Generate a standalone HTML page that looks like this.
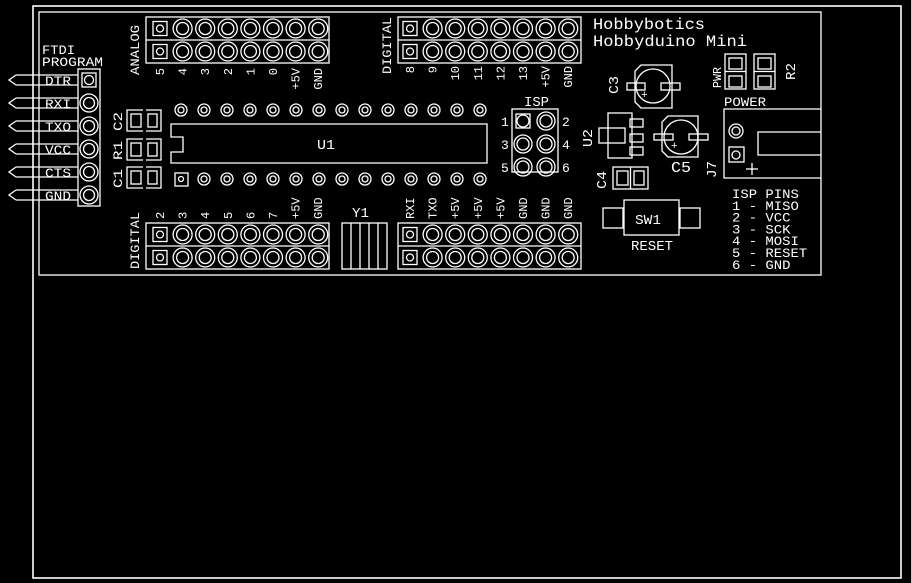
<!DOCTYPE html>
<html><head><meta charset="utf-8"><style>
html,body{margin:0;padding:0;background:#000;}
svg{display:block}
text{font-family:"Liberation Mono","DejaVu Sans Mono",monospace;fill:#fff;stroke:none}
</style></head><body>
<svg id="s" width="912" height="583" viewBox="0 0 912 583" xmlns="http://www.w3.org/2000/svg">
<rect x="0" y="0" width="912" height="583" fill="#000"/>
<line x1="911.5" y1="0" x2="911.5" y2="583" stroke="#c8c8c8" stroke-width="1"/>
<g id="g" fill="none" stroke="#fff" stroke-width="1.3">
<rect x="33" y="6" width="868" height="572" stroke-width="1.6"/>
<rect x="39" y="12" width="782" height="263"/>
</g>
</svg>
<script>
var NS="http://www.w3.org/2000/svg",g=document.getElementById('g'),s=document.getElementById('s');
function el(t,a,p){var e=document.createElementNS(NS,t);for(var k in a)e.setAttribute(k,a[k]);(p||g).appendChild(e);return e;}
function R(x,y,w,h){el('rect',{x:x,y:y,width:w,height:h});}
function C(x,y,r){el('circle',{cx:x,cy:y,r:r});}
function L(a,b,c,d){el('line',{x1:a,y1:b,x2:c,y2:d});}
function T(x,y,t,sz,opt){opt=opt||{};var a={x:x,y:y,'font-size':sz};if(opt.anchor)a['text-anchor']=opt.anchor;if(opt.rot)a.transform='rotate(-90 '+x+' '+y+')';if(opt.len){a.textLength=opt.len;a.lengthAdjust='spacingAndGlyphs';}var e=el('text',a,s);e.textContent=t;return e;}
// header
function header(x0,y0,pinx){R(x0,y0,183,46);L(x0,y0+23,x0+183,y0+23);
 for(var r=0;r<2;r++){var cy=y0+11.5+r*23;
  for(var i=0;i<8;i++){var cx=pinx+i*22.6;
   if(i==0){R(cx-7,cy-7,14,14);C(cx,cy,3.5);}else{C(cx,cy,9.5);C(cx,cy,6);}}}}
header(146,17,160);header(398,17,410);header(146,223,160);header(398,223,410);
// header labels
var top1=['5','4','3','2','1','0','+5V','GND'];
var top2=['8','9','10','11','12','13','+5V','GND'];
var bot1=['2','3','4','5','6','7','+5V','GND'];
var bot2=['RXI','TXO','+5V','+5V','+5V','GND','GND','GND'];
for(var i=0;i<8;i++){
 T(160+i*22.6+4,68,top1[i],12,{rot:1,anchor:'end'});
 T(410+i*22.6+4,66,top2[i],12,{rot:1,anchor:'end'});
 T(160+i*22.6+4,219,bot1[i],12,{rot:1});
 T(410+i*22.6+4,219,bot2[i],12,{rot:1});
}
T(139,75,'ANALOG',13,{rot:1,len:50});
T(391,74,'DIGITAL',13,{rot:1,len:57});
T(139,269,'DIGITAL',13,{rot:1,len:57});
// FTDI
T(42,54,'FTDI',13,{len:33});T(42,66,'PROGRAM',13,{len:61});
R(78,69,22,137);
var fl=['DTR','RXI','TXO','VCC','CTS','GND'];
for(var i=0;i<6;i++){var cy=80+i*23;
 if(i==0){R(82,73,14,14);C(89,cy,4.5);}else{C(89,cy,9);C(89,cy,5.5);}
 L(16,cy-5,78,cy-5);L(16,cy+5,78,cy+5);
 el('polyline',{points:'16,'+(cy-5)+' 9,'+cy+' 16,'+(cy+5)});
 T(45,cy+5,fl[i],13,{len:26});}
// small comps C2 R1 C1
[[110,'C2'],[139,'R1'],[167,'C1']].forEach(function(a){var y=a[0];
 el('polyline',{points:'143,'+y+' 127,'+y+' 127,'+(y+21)+' 143,'+(y+21)});
 el('polyline',{points:'146,'+y+' 161,'+y+' 161,'+(y+21)+' 146,'+(y+21)});
 R(131,y+4,10,13);R(148,y+4,9,13);
 T(122,y+21,a[1],13,{rot:1,len:19});});
// DIP
el('path',{d:'M171 124 H487 V163 H171 V152 H183 V137 H171 Z'});
for(var i=0;i<14;i++){var cx=181+i*23;
 C(cx,110,6);C(cx,110,3);
 if(i==0){R(175,173,13,13);C(181,179,2.5);}else{C(cx,179,6);C(cx,179,3);}}
T(317,149,'U1',14,{len:18});
// Y1
R(342,223,45,46);[351,360,369,378].forEach(function(x){L(x,223,x,269);});
T(352,217,'Y1',14,{len:17});
// ISP
R(512,109,46,63);
for(var r=0;r<3;r++)for(var c=0;c<2;c++){var cx=523+c*23,cy=121+r*23;
 if(r==0&&c==0){R(cx-7,cy-7,14,14);C(cx,cy,6);}else{C(cx,cy,9);C(cx,cy,6);}}
T(524,106,'ISP',14,{len:25});
['1','3','5'].forEach(function(t,i){T(501,126+i*23,t,13);});
['2','4','6'].forEach(function(t,i){T(562,126+i*23,t,13);});
// title
T(593,29,'Hobbybotics',16,{len:112});
T(593,46,'Hobbyduino Mini',16,{len:154});
// PWR R2
[725,754].forEach(function(x){R(x,54,21,35);R(x+4,58,13,11);R(x+4,76,13,11);});
L(725,71.5,746,71.5);L(754,71.5,775,71.5);
T(721,88,'PWR',12,{rot:1,len:21});T(795,80,'R2',14,{rot:1,len:17});
// C3
el('path',{d:'M641 65 H672 V108 H641 L635 102 V71 Z'});C(653,86,17);
R(627,83,18,7);R(661,83,19,7);T(641,98,'+',11);
T(618,94,'C3',14,{rot:1,len:18});
// C5
el('path',{d:'M668 116 H698 V157 H668 L662 151 V122 Z'});C(681,137,17);
R(654,134,19,6);R(689,134,19,6);T(671,149,'+',11);
T(671,172,'C5',15,{len:20});
// U2
R(608,113,24,45);R(599,128,26,15);R(630,119,13,8);R(630,134,13,8);R(630,147,13,8);
T(592,147,'U2',14,{rot:1,len:18});
// C4
R(613,167,35,22);L(630.5,167,630.5,189);R(617,171,11,14);R(634,171,10,14);
T(606,189,'C4',14,{rot:1,len:18});
// SW1
R(624,200,55,35);R(603,208,20,20);R(680,208,20,20);
T(635,224,'SW1',14,{len:26});T(631,250,'RESET',14,{len:42});
// POWER J7
T(724,106,'POWER',13,{len:42});
el('path',{d:'M821 109 H724 V178 H821'});
el('path',{d:'M821 132 H758 V155 H821'});
C(736,131,7);C(736,131,4);R(729,147,15,15);C(736,155,4);
L(746,169,758,169);L(752,163,752,175);
T(716,178,'J7',14,{rot:1,len:17});
// ISP PINS
['ISP PINS','1 - MISO','2 - VCC','3 - SCK','4 - MOSI','5 - RESET','6 - GND'].forEach(function(t,i){
 T(732,198+i*11.8,t,13,{len:t.length*8.35});});
</script>
</body></html>
